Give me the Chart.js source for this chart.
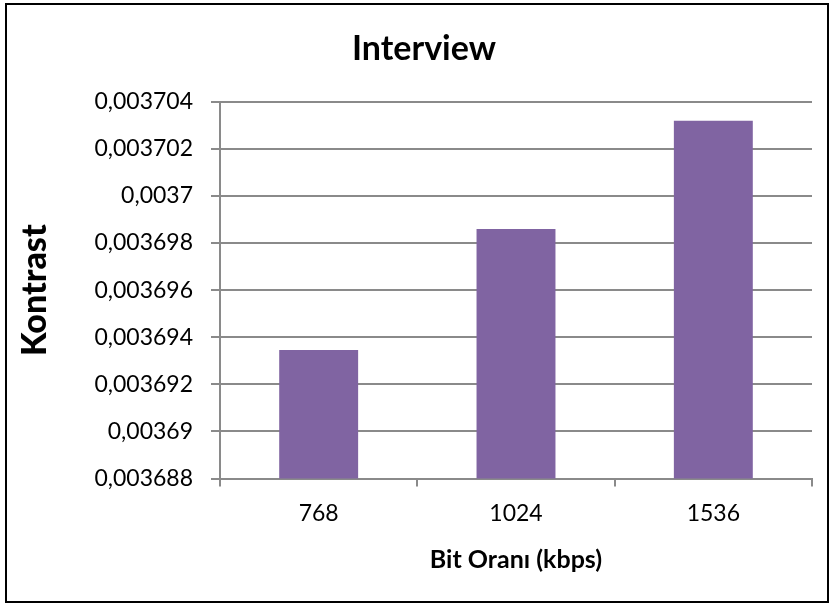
<!DOCTYPE html>
<html>
<head>
<meta charset="utf-8">
<script src="https://cdn.jsdelivr.net/npm/chart.js@4/dist/chart.umd.min.js"></script>
<style>
    body { margin: 0; background: #fff; }
    #wrap { position: relative; width: 829px; height: 603px; }
    #frame {
        position: absolute; left: 5px; top: 3px; right: 0; bottom: 0;
        border: 2px solid #000; pointer-events: none;
    }
</style>
</head>
<body>
<div id="wrap">
    <canvas id="myChart" width="829" height="603"></canvas>
    <div id="frame"></div>
</div>
<script>
const bitRates = ['768', '1024', '1536'];
const contrast = [0.00369346, 0.0036986, 0.00370319];

const Y_MIN = 0.003688;
const Y_MAX = 0.003704;
const Y_STEP = 0.000002;

const GRID = '#8a8a8a';
const FONT = 'Lato';

// comma as decimal separator, trailing zeros dropped
function formatTick(value) {
    return value.toFixed(6).replace(/0+$/, '').replace('.', ',');
}

const ctx = document.getElementById('myChart').getContext('2d');
const myChart = new Chart(ctx, {
    type: 'bar',
    data: {
        labels: bitRates,
        datasets: [{
            data: contrast,
            backgroundColor: '#8064a2',
            barPercentage: 0.4,
            categoryPercentage: 1.0
        }]
    },
    options: {
        responsive: false,
        animation: false,
        layout: {
            padding: {left: 36, right: 17, top: 10, bottom: 0}
        },
        scales: {
            x: {
                afterFit: function (scale) { scale.height = 124.5; },
                grid: {
                    offset: true,
                    drawOnChartArea: false,
                    tickLength: 8,
                    color: GRID,
                    lineWidth: 2
                },
                border: {color: GRID, width: 2},
                ticks: {
                    color: '#000',
                    padding: 13,
                    font: {family: FONT, size: 23}
                },
                title: {
                    display: true,
                    text: 'Bit Oranı (kbps)',
                    color: '#000',
                    font: {family: FONT, size: 25, weight: 'bold'},
                    padding: {top: 0, bottom: 28}
                }
            },
            y: {
                min: Y_MIN,
                max: Y_MAX,
                afterFit: function (scale) { scale.width = 184; },
                grid: {
                    tickLength: 9,
                    color: GRID,
                    lineWidth: 2
                },
                border: {color: GRID, width: 2},
                ticks: {
                    stepSize: Y_STEP,
                    color: '#000',
                    padding: 18,
                    font: {family: FONT, size: 23},
                    callback: function (val) { return formatTick(val); }
                },
                title: {
                    display: true,
                    text: 'Kontrast',
                    color: '#000',
                    font: {family: FONT, size: 34, weight: 900},
                    padding: {top: -21, bottom: 0}
                }
            }
        },
        plugins: {
            legend: {display: false},
            tooltip: {enabled: false},
            title: {
                display: true,
                text: 'Interview',
                color: '#000',
                font: {family: FONT, size: 34, weight: 'bold'},
                padding: {top: 19, bottom: 32}
            }
        }
    }
});
</script>
</body>
</html>
